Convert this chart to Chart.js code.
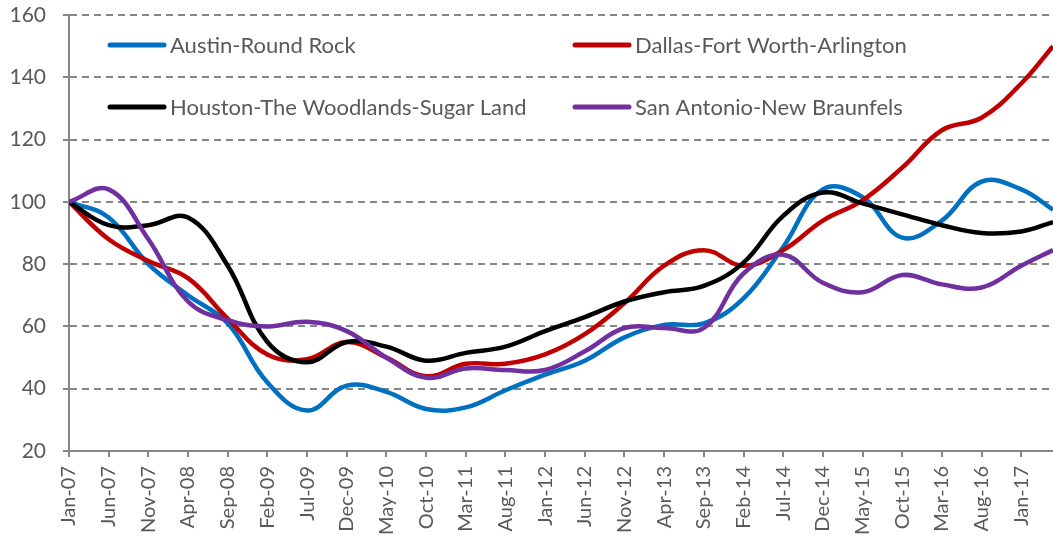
<!DOCTYPE html>
<html>
<head>
<meta charset="utf-8">
<script src="https://cdn.jsdelivr.net/npm/chart.js@4"></script>
<style>
  html, body { margin: 0; padding: 0; background: #fff; }
  #wrap { width: 1053px; height: 543px; }
</style>
</head>
<body>
<div id="wrap"><canvas id="indices"></canvas></div>
<script>
// Indice des prix (Jan-07 = 100), mois depuis Jan-07
const months = [0, 5, 10, 15, 20, 25, 30, 35, 40, 45, 50, 55, 60, 65, 70, 75, 80, 85, 90, 95, 100, 105, 110, 115, 120, 124];

const tickLabels = ["Jan-07", "Jun-07", "Nov-07", "Apr-08", "Sep-08", "Feb-09", "Jul-09", "Dec-09", "May-10",
  "Oct-10", "Mar-11", "Aug-11", "Jan-12", "Jun-12", "Nov-12", "Apr-13", "Sep-13", "Feb-14", "Jul-14",
  "Dec-14", "May-15", "Oct-15", "Mar-16", "Aug-16", "Jan-17"];

const seriesNames = ["Austin-Round Rock", "Dallas-Fort Worth-Arlington", "Houston-The Woodlands-Sugar Land", "San Antonio-New Braunfels"];

const austin = [100, 95, 80, 70, 61, 42, 33, 41, 39, 33.5, 34, 39.5, 44.5, 49, 56.5, 60.5, 61, 69, 85.5, 104, 101.5, 88.5, 94, 106.5, 104, 97.5];
const dallas = [100, 88, 81, 75.5, 62.5, 51, 49.5, 55, 50, 44, 48, 48, 51, 57.5, 67.5, 79.5, 84.5, 79.5, 84.5, 94, 100.5, 111, 123, 127, 138, 150];
const houston = [100, 92.5, 92.5, 95, 79.5, 55, 48.5, 55, 53.5, 49, 51.5, 53.5, 58.5, 63, 68, 71, 73, 80.5, 95.5, 103, 99.5, 96, 92.5, 90, 90.5, 93.5];
const sanAntonio = [100, 104, 88, 68, 62, 60, 61.5, 58.5, 50, 43.5, 46.5, 46, 46, 52, 59.5, 59.5, 59.5, 77, 83, 74, 71, 76.5, 73.5, 72.5, 79.5, 84.5];

const colors = ["#0070C0", "#C00000", "#000000", "#7030A0"];
const allValues = [austin, dallas, houston, sanAntonio];

const textColor = "#595959";
const gridColor = "#868686";
const fontFamily = "Lato, 'Liberation Sans', sans-serif";

// Légende dessinée dans la zone du graphique (2 colonnes)
const insideLegend = {
  id: "insideLegend",
  afterDraw(chart) {
    const ctx = chart.ctx;
    const area = chart.chartArea;
    const cols = [area.left + 41, area.left + 506];
    const rows = [area.top + 30, area.top + 92];
    ctx.save();
    ctx.font = "22px " + fontFamily;
    ctx.textBaseline = "middle";
    seriesNames.forEach((name, i) => {
      const x = cols[i % 2];
      const y = rows[Math.floor(i / 2)];
      ctx.strokeStyle = colors[i];
      ctx.lineWidth = 5;
      ctx.lineCap = "round";
      ctx.beginPath();
      ctx.moveTo(x, y);
      ctx.lineTo(x + 54, y);
      ctx.stroke();
      ctx.fillStyle = textColor;
      ctx.fillText(name, x + 60, y + 1);
    });
    ctx.restore();
  },
};

// Taille fixe des axes, sans marges automatiques
function fixBox(size, key) {
  return (scale) => {
    scale[key] = size;
    scale.paddingLeft = 0;
    scale.paddingRight = 0;
    scale.paddingTop = 0;
    scale.paddingBottom = 0;
  };
}

const ctx = document.getElementById("indices");

new Chart(ctx, {
  type: "line",
  data: {
    datasets: seriesNames.map((name, i) => ({
      label: name,
      data: months.map((m, j) => ({ x: m, y: allValues[i][j] })),
      borderColor: colors[i],
      backgroundColor: colors[i],
      borderWidth: 4.5,
      pointRadius: 0,
      tension: 0.4,
      order: 4 - i,
    })),
  },
  options: {
    responsive: true,
    maintainAspectRatio: false,
    animation: false,
    layout: { padding: { top: 15, right: 0, left: 6, bottom: 0 } },
    plugins: {
      legend: { display: false },
      tooltip: { enabled: false },
    },
    scales: {
      x: {
        type: "linear",
        min: 0,
        max: 124,
        afterFit: fixBox(92, "height"),
        afterBuildTicks: (scale) => {
          scale.ticks = tickLabels.map((_, i) => ({ value: i * 5 }));
        },
        ticks: {
          autoSkip: false,
          minRotation: 90,
          maxRotation: 90,
          color: textColor,
          padding: 9,
          font: { family: fontFamily, size: 20 },
          callback: (value) => tickLabels[Math.round(value / 5)],
        },
        grid: {
          drawOnChartArea: false,
          drawTicks: true,
          tickLength: 6,
          color: gridColor,
          lineWidth: 2,
        },
        border: { display: true, color: gridColor, width: 2 },
      },
      y: {
        min: 20,
        max: 160,
        afterFit: fixBox(63, "width"),
        ticks: {
          stepSize: 20,
          color: textColor,
          padding: 17,
          font: { family: fontFamily, size: 21 },
        },
        grid: {
          color: gridColor,
          lineWidth: 2,
          tickLength: 6,
          tickBorderDash: [],
        },
        border: { display: true, color: gridColor, width: 2, dash: [7, 5] },
      },
    },
  },
  plugins: [insideLegend],
});
</script>
</body>
</html>
